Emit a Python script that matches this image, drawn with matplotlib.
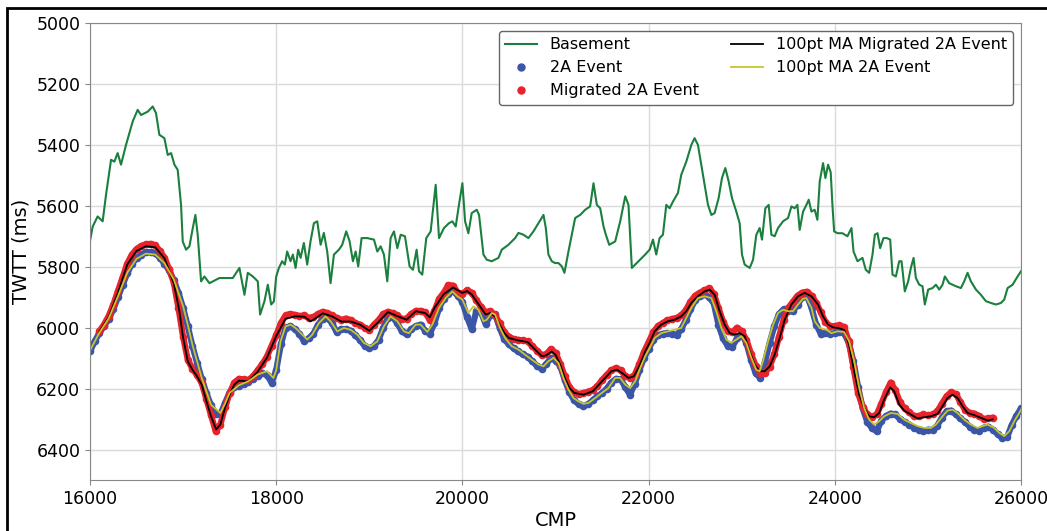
import matplotlib
matplotlib.use('Agg')
import matplotlib.pyplot as plt
from matplotlib.patches import Rectangle
import numpy as np

file_out = 'out.png'

# basement horizon, picked by hand (CMP, TWTT ms)
basement_cmp = [
    16000, 16029, 16082, 16136, 16172, 16226, 16262, 16297, 16333, 16387,
    16459, 16512, 16548, 16620, 16674, 16709, 16745, 16799, 16835, 16871,
    16907, 16942, 16978, 16996, 17032, 17068, 17104, 17132, 17157, 17193,
    17229, 17283, 17390, 17534, 17605, 17659, 17695, 17749, 17802, 17827,
    17874, 17910, 17946, 17975, 18000, 18029, 18064, 18093, 18118, 18154,
    18179, 18208, 18236, 18262, 18297, 18333, 18369, 18405, 18441, 18477,
    18512, 18548, 18584, 18620, 18674, 18709, 18752, 18788, 18824, 18853,
    18881, 18917, 18978, 19050, 19086, 19122, 19157, 19193, 19229, 19265,
    19301, 19337, 19383, 19433, 19469, 19508, 19534, 19569, 19612, 19659,
    19713, 19749, 19802, 19856, 19892, 19928, 19963, 20000, 20029, 20064,
    20100, 20154, 20179, 20226, 20262, 20315, 20387, 20423, 20494, 20566,
    20602, 20656, 20709, 20763, 20817, 20871, 20896, 20924, 20960, 20996,
    21032, 21068, 21096, 21139, 21175, 21211, 21265, 21319, 21372, 21408,
    21444, 21480, 21516, 21541, 21577, 21641, 21695, 21749, 21784, 21820,
    21856, 21910, 21963, 22011, 22047, 22082, 22118, 22154, 22190, 22226,
    22262, 22315, 22351, 22405, 22459, 22494, 22530, 22566, 22602, 22638,
    22674, 22709, 22752, 22788, 22824, 22860, 22896, 22942, 22978, 23003,
    23032, 23086, 23122, 23157, 23193, 23218, 23254, 23290, 23319, 23354,
    23390, 23444, 23498, 23534, 23569, 23598, 23623, 23659, 23695, 23720,
    23749, 23784, 23813, 23838, 23874, 23899, 23928, 23956, 23975, 23993,
    24029, 24082, 24136, 24179, 24201, 24244, 24297, 24333, 24369, 24405,
    24430, 24459, 24487, 24523, 24559, 24595, 24620, 24656, 24692, 24717,
    24752, 24788, 24817, 24846, 24871, 24907, 24942, 24967, 25003, 25050,
    25086, 25122, 25157, 25182, 25229, 25301, 25354, 25390, 25426, 25462,
    25516, 25569, 25623, 25677, 25731, 25784, 25820, 25856, 25910, 25963,
    26000]
basement_twtt = [
    5715, 5668, 5635, 5651, 5564, 5449, 5455, 5427, 5465, 5400,
    5323, 5285, 5302, 5291, 5274, 5296, 5367, 5378, 5433, 5427,
    5465, 5482, 5597, 5717, 5744, 5733, 5673, 5630, 5695, 5848,
    5832, 5854, 5837, 5837, 5804, 5892, 5820, 5832, 5848, 5957,
    5913, 5859, 5924, 5914, 5832, 5804, 5782, 5793, 5750, 5782,
    5760, 5804, 5744, 5771, 5722, 5793, 5716, 5657, 5651, 5728,
    5689, 5750, 5854, 5760, 5744, 5728, 5684, 5716, 5782, 5750,
    5799, 5706, 5706, 5711, 5750, 5733, 5760, 5848, 5706, 5684,
    5739, 5695, 5700, 5799, 5810, 5744, 5815, 5826, 5706, 5684,
    5531, 5706, 5673, 5657, 5651, 5668, 5597, 5526, 5651, 5690,
    5624, 5613, 5630, 5760, 5777, 5782, 5771, 5744, 5728, 5706,
    5689, 5695, 5706, 5684, 5657, 5630, 5673, 5760, 5782, 5788,
    5788, 5799, 5820, 5750, 5695, 5640, 5630, 5613, 5602, 5526,
    5597, 5608, 5668, 5695, 5728, 5717, 5651, 5569, 5597, 5804,
    5793, 5777, 5760, 5744, 5711, 5760, 5706, 5695, 5597, 5608,
    5586, 5558, 5498, 5455, 5400, 5378, 5400, 5465, 5531, 5597,
    5630, 5624, 5575, 5509, 5476, 5520, 5575, 5619, 5657, 5760,
    5793, 5804, 5777, 5695, 5673, 5711, 5608, 5597, 5695, 5700,
    5673, 5651, 5640, 5602, 5608, 5597, 5679, 5619, 5597, 5580,
    5619, 5613, 5646, 5520, 5460, 5509, 5465, 5490, 5600, 5684,
    5690, 5690, 5700, 5673, 5750, 5782, 5771, 5810, 5820, 5760,
    5695, 5690, 5739, 5706, 5706, 5711, 5826, 5832, 5782, 5782,
    5881, 5848, 5804, 5771, 5837, 5859, 5864, 5924, 5875, 5870,
    5859, 5875, 5859, 5832, 5854, 5864, 5870, 5848, 5820, 5848,
    5875, 5892, 5913, 5919, 5924, 5919, 5908, 5870, 5859, 5832,
    5815]

# 2A event picks, every 50 CMP from 16000 to 26000
event_cmp = list(range(16000, 26001, 50))
event_twtt = [
    6078, 6045, 6018, 5995, 5972, 5940, 5900, 5860, 5822, 5790,
    5772, 5760, 5752, 5752, 5756, 5770, 5790, 5812, 5845, 5885,
    5935, 5995, 6060, 6115, 6168, 6215, 6255, 6285, 6285, 6248,
    6212, 6195, 6192, 6185, 6178, 6168, 6158, 6150, 6155, 6180,
    6140, 6055, 6000, 5995, 6005, 6020, 6045, 6035, 6020, 5990,
    5970, 5968, 5985, 6015, 6005, 6005, 6010, 6025, 6040, 6060,
    6068, 6060, 6040, 6000, 5968, 5965, 5985, 6012, 6022, 6005,
    5995, 5990, 6010, 6020, 5985, 5935, 5905, 5888, 5880, 5895,
    5915, 5965, 6005, 5945, 5950, 5988, 5960, 5955, 6000, 6038,
    6055, 6068, 6078, 6088, 6095, 6110, 6125, 6135, 6120, 6100,
    6108, 6125, 6172, 6212, 6238, 6252, 6258, 6252, 6238, 6225,
    6215, 6200, 6180, 6168, 6170, 6195, 6220, 6185, 6140, 6100,
    6070, 6040, 6025, 6020, 6018, 6020, 6025, 6005, 5975, 5940,
    5910, 5895, 5890, 5900, 5920, 5990, 6035, 6060, 6062, 6035,
    6020, 6050, 6105, 6150, 6165, 6112, 6050, 5995, 5955, 5940,
    5945, 5945, 5925, 5900, 5895, 5935, 5990, 6020, 6018, 6020,
    6018, 6015, 6018, 6050, 6110, 6195, 6265, 6310, 6330, 6340,
    6305, 6290, 6282, 6285, 6300, 6310, 6318, 6328, 6335, 6338,
    6335, 6335, 6322, 6295, 6275, 6272, 6285, 6298, 6310, 6325,
    6335, 6338, 6328, 6325, 6335, 6350, 6362, 6360, 6320, 6290,
    6265]

# migrated 2A event picks, every 50 CMP from 16100 to 25700
mig_cmp = list(range(16100, 25701, 50))
mig_twtt = [
    6012, 5990, 5962, 5925, 5880, 5835, 5790, 5760, 5742, 5732,
    5726, 5725, 5730, 5748, 5770, 5808, 5852, 5935,
    6030, 6105, 6135, 6155, 6182, 6235, 6288, 6340, 6318, 6262,
    6215, 6180, 6168, 6170, 6172, 6160, 6140, 6120, 6095, 6060,
    6025, 5985, 5960, 5955, 5958, 5962, 5960, 5968, 5965, 5955,
    5948, 5952, 5960, 5968, 5975, 5970, 5975, 5985, 5990, 6000,
    6008, 5990, 5975, 5955, 5948, 5952, 5960, 5972, 5970, 5955,
    5945, 5945, 5950, 5975, 5945, 5905, 5885, 5860, 5862, 5885,
    5888, 5878, 5885, 5910, 5932, 5950, 5945, 5960, 5985, 6015,
    6030, 6038, 6040, 6042, 6045, 6060, 6075, 6090, 6088, 6070,
    6082, 6118, 6160, 6195, 6212, 6218, 6215, 6210, 6205, 6192,
    6172, 6155, 6140, 6132, 6140, 6158, 6165, 6155, 6120, 6080,
    6048, 6015, 5995, 5985, 5976, 5972, 5968, 5960, 5942, 5915,
    5895, 5885, 5878, 5870, 5888, 5935, 5980, 6010, 6015, 6000,
    6012, 6040, 6085, 6125, 6148, 6148, 6128, 6088, 6030, 5975,
    5935, 5915, 5895, 5885, 5882, 5895, 5918, 5950, 5982, 5995,
    5995, 5992, 5998, 6045, 6130, 6215, 6260, 6285, 6292, 6285,
    6250, 6212, 6180, 6205, 6245, 6265, 6278, 6290, 6290, 6285,
    6288, 6285, 6275, 6250, 6225, 6212, 6218, 6245, 6270, 6280,
    6282, 6290, 6300, 6298, 6295]

# 100 point moving averages
ma_mig_cmp = [
    16100, 16200, 16300, 16400, 16500, 16600, 16700, 16800, 16900, 16960,
    17000, 17050, 17100, 17150, 17200, 17250, 17300, 17355, 17400, 17450,
    17500, 17550, 17600, 17700, 17800, 17900, 18000, 18100, 18200, 18300,
    18370, 18400, 18500, 18600, 18700, 18800, 18900, 19000, 19100, 19200,
    19300, 19400, 19500, 19600, 19650, 19700, 19800, 19900, 20000, 20050,
    20100, 20150, 20200, 20250, 20300, 20350, 20400, 20450, 20500, 20600,
    20700, 20800, 20855, 20900, 20960, 21000, 21050, 21100, 21150, 21200,
    21300, 21400, 21500, 21600, 21660, 21715, 21785, 21840, 21900, 21963,
    22011, 22065, 22136, 22208, 22280, 22351, 22405, 22459, 22530, 22602,
    22656, 22709, 22763, 22817, 22871, 22924, 22978, 23032, 23086, 23139,
    23193, 23247, 23301, 23354, 23408, 23462, 23534, 23605, 23677, 23749,
    23820, 23874, 23928, 23981, 24029, 24100, 24154, 24208, 24262, 24315,
    24369, 24423, 24477, 24530, 24595, 24638, 24692, 24745, 24817, 24889,
    24960, 25032, 25104, 25157, 25211, 25265, 25319, 25372, 25426, 25498,
    25569, 25641, 25695]
ma_mig_twtt = [
    6014, 5966, 5886, 5793, 5748, 5733, 5736, 5772, 5854, 5946,
    6033, 6110, 6138, 6160, 6187, 6241, 6291, 6334, 6318, 6263,
    6220, 6187, 6174, 6176, 6145, 6099, 6028, 5971, 5963, 5964,
    5979, 5974, 5953, 5963, 5980, 5980, 5990, 6010, 5981, 5949,
    5962, 5974, 5946, 5952, 5966, 5935, 5890, 5868, 5886, 5880,
    5891, 5913, 5935, 5957, 5952, 5963, 5990, 6018, 6034, 6042,
    6047, 6078, 6094, 6091, 6078, 6089, 6121, 6165, 6198, 6214,
    6220, 6209, 6176, 6143, 6138, 6149, 6165, 6160, 6127, 6078,
    6050, 6012, 5990, 5979, 5974, 5963, 5946, 5919, 5897, 5881,
    5875, 5892, 5946, 5990, 6018, 6023, 6018, 6028, 6078, 6121,
    6143, 6143, 6127, 6089, 6034, 5974, 5924, 5897, 5886, 5897,
    5924, 5963, 5990, 5999, 6001, 6007, 6056, 6143, 6220, 6263,
    6291, 6294, 6280, 6236, 6196, 6209, 6252, 6272, 6285, 6298,
    6294, 6291, 6283, 6258, 6231, 6220, 6231, 6258, 6280, 6287,
    6296, 6305, 6301]

ma_event_cmp = [
    16000, 16100, 16200, 16300, 16400, 16500, 16600, 16700, 16800, 16900,
    17000, 17050, 17100, 17200, 17300, 17400, 17450, 17500, 17600, 17700,
    17800, 17900, 17970, 18000, 18047, 18100, 18154, 18208, 18280, 18333,
    18387, 18459, 18530, 18584, 18656, 18727, 18799, 18871, 18942, 19014,
    19086, 19157, 19229, 19301, 19372, 19426, 19498, 19551, 19623, 19677,
    19749, 19820, 19892, 19946, 20000, 20064, 20118, 20172, 20226, 20262,
    20315, 20351, 20405, 20459, 20530, 20602, 20674, 20745, 20817, 20871,
    20924, 20978, 21032, 21086, 21139, 21193, 21247, 21301, 21354, 21426,
    21498, 21569, 21641, 21695, 21749, 21802, 21856, 21910, 21963, 22011,
    22065, 22136, 22208, 22280, 22351, 22405, 22459, 22530, 22602, 22674,
    22727, 22781, 22835, 22889, 22942, 22996, 23050, 23104, 23157, 23193,
    23229, 23283, 23337, 23390, 23444, 23498, 23551, 23605, 23659, 23695,
    23749, 23784, 23838, 23910, 23963, 24029, 24100, 24154, 24208, 24262,
    24315, 24369, 24423, 24477, 24530, 24602, 24674, 24745, 24817, 24889,
    24960, 25032, 25086, 25157, 25211, 25265, 25319, 25390, 25462, 25534,
    25587, 25641, 25713, 25766, 25820, 25874, 25928, 25981, 26000]
ma_event_twtt = [
    6075, 6017, 5970, 5897, 5820, 5774, 5757, 5760, 5788, 5842,
    5930, 5990, 6056, 6165, 6253, 6280, 6250, 6214, 6189, 6176,
    6154, 6143, 6165, 6140, 6045, 5996, 5990, 6001, 6023, 6039,
    6023, 5985, 5963, 5979, 6012, 6001, 6007, 6023, 6050, 6061,
    6045, 5996, 5963, 5979, 6012, 6018, 5990, 5990, 6014, 5990,
    5935, 5903, 5881, 5897, 5908, 5952, 5930, 5941, 5979, 5974,
    5952, 5957, 6001, 6034, 6061, 6072, 6089, 6105, 6121, 6127,
    6110, 6099, 6116, 6165, 6203, 6231, 6242, 6250, 6247, 6231,
    6214, 6198, 6165, 6165, 6187, 6198, 6176, 6132, 6094, 6067,
    6034, 6018, 6012, 6007, 6001, 5968, 5935, 5903, 5897, 5903,
    5946, 6001, 6039, 6050, 6039, 6028, 6050, 6099, 6138, 6143,
    6110, 6045, 5990, 5952, 5941, 5946, 5946, 5924, 5905, 5903,
    5935, 5979, 6001, 6007, 6018, 6012, 6014, 6045, 6110, 6198,
    6263, 6302, 6318, 6307, 6291, 6280, 6283, 6302, 6313, 6323,
    6329, 6329, 6318, 6291, 6272, 6269, 6280, 6302, 6318, 6329,
    6323, 6318, 6329, 6345, 6356, 6340, 6307, 6280, 6269]

blue = '#3b55a8'
red = '#e8232b'

fig = plt.figure(figsize=(10.47, 5.31), dpi=100)
ax = fig.add_axes([90 / 1047, 51 / 531, 931 / 1047, 457 / 531])

ax.plot(basement_cmp, basement_twtt, color='#1b7f3e', lw=1.5, label='Basement')

# picks are dense, so each event reads as a band of dots
ax.plot(event_cmp, event_twtt, color=blue, lw=4.5, solid_joinstyle='round',
        solid_capstyle='round')
ax.plot(event_cmp, event_twtt, 'o', ms=5.5, mew=0, color=blue, label='2A Event')
ax.plot(mig_cmp, mig_twtt, color=red, lw=4.5, solid_joinstyle='round',
        solid_capstyle='round')
ax.plot(mig_cmp, mig_twtt, 'o', ms=5.5, mew=0, color=red, label='Migrated 2A Event')

ax.plot(ma_mig_cmp, ma_mig_twtt, color='black', lw=1.3, label='100pt MA Migrated 2A Event')
ax.plot(ma_event_cmp, ma_event_twtt, color='#c6c628', lw=1.3, label='100pt MA 2A Event')

ax.set_xlim(16000, 26000)
ax.set_ylim(6500, 5000)
ax.set_xticks(np.arange(16000, 26001, 2000))
ax.set_yticks(np.arange(5000, 6401, 200))
ax.tick_params(labelsize=12.5, color='#888888', length=3.5)
ax.set_xlabel('CMP', fontsize=14, labelpad=2)
ax.set_ylabel('TWTT (ms)', fontsize=14)
for s in ax.spines.values():
    s.set_color('#888888')
ax.grid(color='#dadada', lw=1)
ax.set_axisbelow(True)

leg = ax.legend(loc='upper right', ncol=2, fontsize=11.5, markerscale=1.1,
                framealpha=1, edgecolor='#666666')

# black frame round the figure
fig.patches.append(Rectangle((7 / 1047, -0.5), 2, 0.5 + 523 / 531,
                             transform=fig.transFigure, fill=False,
                             edgecolor='black', lw=2))

fig.savefig(file_out, dpi=100)
